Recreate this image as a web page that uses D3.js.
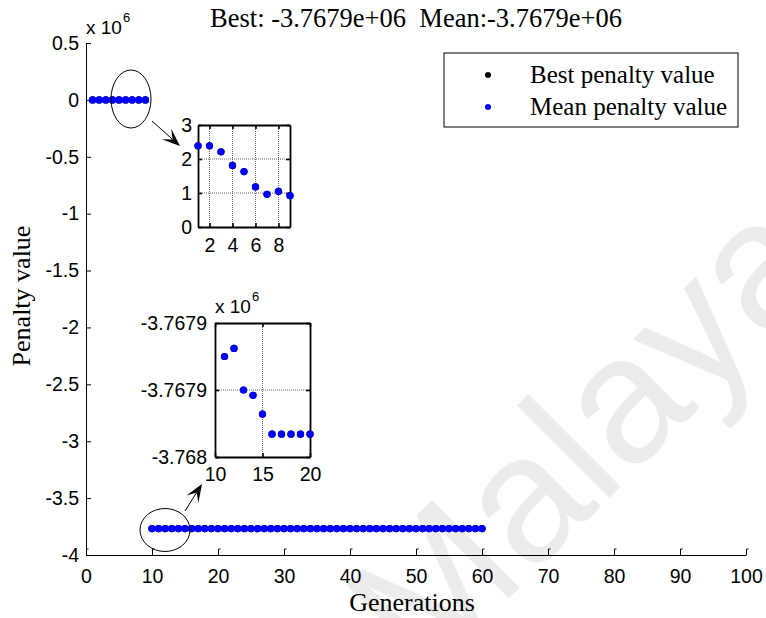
<!DOCTYPE html>
<html>
<head>
<meta charset="utf-8">
<script src="https://cdn.jsdelivr.net/npm/d3@7"></script>
<style>
body { margin: 0; background: #fff; }
</style>
</head>
<body>
<script>
var w = 766;
var h = 618;

// generations 1..60
var generations = d3.range(1, 61);
var bestValues = [
    2.39, 2.39, 2.21, 1.81, 1.63, 1.18, 0.96, 1.05, 0.92, -3767870,
    -3767925, -3767919, -3767950, -3767954, -3767968, -3767983, -3767983, -3767983, -3767983, -3767983,
    -3767983, -3767983, -3767983, -3767983, -3767983, -3767983, -3767983, -3767983, -3767983, -3767983,
    -3767983, -3767983, -3767983, -3767983, -3767983, -3767983, -3767983, -3767983, -3767983, -3767983,
    -3767983, -3767983, -3767983, -3767983, -3767983, -3767983, -3767983, -3767983, -3767983, -3767983,
    -3767983, -3767983, -3767983, -3767983, -3767983, -3767983, -3767983, -3767983, -3767983, -3767983
];
var meanValues = [
    2.39, 2.39, 2.21, 1.81, 1.63, 1.18, 0.96, 1.05, 0.92, -3767870,
    -3767925, -3767919, -3767950, -3767954, -3767968, -3767983, -3767983, -3767983, -3767983, -3767983,
    -3767983, -3767983, -3767983, -3767983, -3767983, -3767983, -3767983, -3767983, -3767983, -3767983,
    -3767983, -3767983, -3767983, -3767983, -3767983, -3767983, -3767983, -3767983, -3767983, -3767983,
    -3767983, -3767983, -3767983, -3767983, -3767983, -3767983, -3767983, -3767983, -3767983, -3767983,
    -3767983, -3767983, -3767983, -3767983, -3767983, -3767983, -3767983, -3767983, -3767983, -3767983
];
var seriesNames = ["Best penalty value", "Mean penalty value"];
var seriesColors = ["#000000", "#0000ff"];

var xTicks = [0, 10, 20, 30, 40, 50, 60, 70, 80, 90, 100];
var yTicks = [-4e6, -3.5e6, -3e6, -2.5e6, -2e6, -1.5e6, -1e6, -0.5e6, 0, 0.5e6];

var zoom1XTicks = [2, 4, 6, 8];
var zoom1YTicks = [0, 1, 2, 3];
var zoom2XTicks = [10, 15, 20];
var zoom2YTicks = [-3768000, -3767950, -3767900];
var zoom2YLabels = ["-3.768", "-3.7679", "-3.7679"];

var sans = "'Liberation Sans', Arial, sans-serif";
var serif = "'Liberation Serif', 'Times New Roman', serif";

var best = generations.map(function (g, i) { return [g, bestValues[i]]; });
var mean = generations.map(function (g, i) { return [g, meanValues[i]]; });

var svg = d3.select("body")
    .append("svg")
    .attr("width", w)
    .attr("height", h);

// watermark
svg.append("text")
    .attr("transform", "translate(424,683) rotate(-45)")
    .attr("font-family", sans)
    .attr("font-size", 180)
    .attr("fill", "#ececec")
    .text("Malaya");

var x = d3.scaleLinear().domain([0, 100]).range([86, 746]);
var y = d3.scaleLinear().domain([-4e6, 0.5e6]).range([555, 43]);

var xAxis = svg.append("g")
    .attr("transform", "translate(0,555)")
    .call(d3.axisBottom(x).tickValues(xTicks).tickSize(-6).tickSizeOuter(0).tickPadding(14));
xAxis.selectAll(".tick").append("path")
    .attr("d", "M0,-6h2")
    .attr("stroke", "#000");

var yAxis = svg.append("g")
    .attr("transform", "translate(86,0)")
    .call(d3.axisLeft(y).tickValues(yTicks).tickSize(-5).tickSizeOuter(0).tickPadding(7)
        .tickFormat(function (d) { return d / 1e6; }));

svg.selectAll(".tick text")
    .attr("font-family", sans)
    .attr("font-size", 19.5)
    .attr("fill", "#000");

// exponent label
function expLabel(px, py) {
    svg.append("text")
        .attr("x", px).attr("y", py)
        .attr("font-family", sans).attr("font-size", 19)
        .text("x 10");
    svg.append("text")
        .attr("x", px + 37).attr("y", py - 12)
        .attr("font-family", sans).attr("font-size", 13)
        .text("6");
}
expLabel(86, 34);

// points
function drawDots(g, data, sx, sy, r, color) {
    g.selectAll(null)
        .data(data)
        .enter()
        .append("circle")
        .attr("cx", function (d) { return sx(d[0]); })
        .attr("cy", function (d) { return sy(d[1]); })
        .attr("r", r)
        .attr("fill", color);
}
drawDots(svg, best, x, y, 3.7, seriesColors[0]);
drawDots(svg, mean, x, y, 3.7, seriesColors[1]);

// title and labels
svg.append("text")
    .attr("x", 416).attr("y", 27)
    .attr("text-anchor", "middle")
    .attr("font-family", serif).attr("font-size", 26.5)
    .attr("xml:space", "preserve")
    .style("white-space", "pre")
    .text("Best: -3.7679e+06  Mean:-3.7679e+06");

svg.append("text")
    .attr("x", 412).attr("y", 611)
    .attr("text-anchor", "middle")
    .attr("font-family", serif).attr("font-size", 26)
    .text("Generations");

svg.append("text")
    .attr("transform", "translate(30,296) rotate(-90)")
    .attr("text-anchor", "middle")
    .attr("font-family", serif).attr("font-size", 26)
    .text("Penalty value");

// legend
var legend = svg.append("g");
legend.append("rect")
    .attr("x", 444).attr("y", 53)
    .attr("width", 294).attr("height", 74)
    .attr("fill", "#fff").attr("stroke", "#000");
seriesNames.forEach(function (name, i) {
    legend.append("circle")
        .attr("cx", 488).attr("cy", 75 + i * 32)
        .attr("r", 3).attr("fill", seriesColors[i]);
    legend.append("text")
        .attr("x", 530).attr("y", 83 + i * 32)
        .attr("font-family", serif).attr("font-size", 25)
        .text(name);
});

// ellipses and arrows
function arrow(x1, y1, x2, y2) {
    var dx = x2 - x1, dy = y2 - y1;
    var len = Math.sqrt(dx * dx + dy * dy);
    var ux = dx / len, uy = dy / len;
    var nx = -uy, ny = ux;
    var L = 18, W = 7;
    svg.append("line")
        .attr("x1", x1).attr("y1", y1)
        .attr("x2", x2 - ux * 10).attr("y2", y2 - uy * 10)
        .attr("stroke", "#000").attr("stroke-width", 1);
    var pts = [
        [x2, y2],
        [x2 - L * ux + W * nx, y2 - L * uy + W * ny],
        [x2 - 0.55 * L * ux, y2 - 0.55 * L * uy],
        [x2 - L * ux - W * nx, y2 - L * uy - W * ny]
    ];
    svg.append("polygon")
        .attr("points", pts.map(function (p) { return p.join(","); }).join(" "))
        .attr("fill", "#000");
}

svg.append("ellipse")
    .attr("cx", 131).attr("cy", 99).attr("rx", 20).attr("ry", 29)
    .attr("fill", "none").attr("stroke", "#000");
arrow(152, 121, 180, 146);

svg.append("ellipse")
    .attr("cx", 165).attr("cy", 530).attr("rx", 25).attr("ry", 21.5)
    .attr("fill", "none").attr("stroke", "#000");
arrow(185, 511, 202, 484);

// inset plots
function inset(x0, x1, y0, y1, xDom, yDom, xt, yt, yFmt, yPad, xPad) {
    var sx = d3.scaleLinear().domain(xDom).range([x0, x1]);
    var sy = d3.scaleLinear().domain(yDom).range([y1, y0]);
    var g = svg.append("g");
    g.append("rect")
        .attr("x", x0).attr("y", y0)
        .attr("width", x1 - x0).attr("height", y1 - y0)
        .attr("fill", "#fff");
    // grid
    g.selectAll(null).data(xt.filter(function (d) { return d > xDom[0] && d < xDom[1]; }))
        .enter().append("line")
        .attr("x1", function (d) { return sx(d); }).attr("x2", function (d) { return sx(d); })
        .attr("y1", y0).attr("y2", y1)
        .attr("stroke", "#666").attr("stroke-dasharray", "1,1");
    g.selectAll(null).data(yt.filter(function (d) { return d > yDom[0] && d < yDom[1]; }))
        .enter().append("line")
        .attr("y1", function (d) { return sy(d); }).attr("y2", function (d) { return sy(d); })
        .attr("x1", x0).attr("x2", x1)
        .attr("stroke", "#666").attr("stroke-dasharray", "1,1");

    var axes = [
        [d3.axisBottom(sx).tickValues(xt).tickPadding(xPad), "translate(0," + y1 + ")"],
        [d3.axisTop(sx).tickValues(xt).tickFormat(""), "translate(0," + y0 + ")"],
        [d3.axisLeft(sy).tickValues(yt).tickPadding(yPad).tickFormat(yFmt), "translate(" + x0 + ",0)"],
        [d3.axisRight(sy).tickValues(yt).tickFormat(""), "translate(" + x1 + ",0)"]
    ];
    axes.forEach(function (a) {
        var ag = g.append("g")
            .attr("transform", a[1])
            .call(a[0].tickSize(-4).tickSizeOuter(0));
        ag.select(".domain").attr("stroke-width", 1.8);
        ag.selectAll(".tick line").attr("stroke-width", 1.6);
        ag.selectAll(".tick text")
            .attr("font-family", sans).attr("font-size", 19.5).attr("fill", "#000");
    });

    function inside(d) {
        return d[0] >= xDom[0] && d[0] <= xDom[1] && d[1] >= yDom[0] && d[1] <= yDom[1];
    }
    drawDots(g, best.filter(inside), sx, sy, 3.6, seriesColors[0]);
    drawDots(g, mean.filter(inside), sx, sy, 3.6, seriesColors[1]);
}

inset(198, 290, 125, 227, [1, 9], [0, 3], zoom1XTicks, zoom1YTicks,
    function (d) { return d; }, 6, 11.5);

inset(215, 310, 323, 457, [10, 20], [-3768000, -3767900], zoom2XTicks, zoom2YTicks,
    function (d, i) { return zoom2YLabels[i]; }, 8, 10);
expLabel(215, 313);
</script>
</body>
</html>
